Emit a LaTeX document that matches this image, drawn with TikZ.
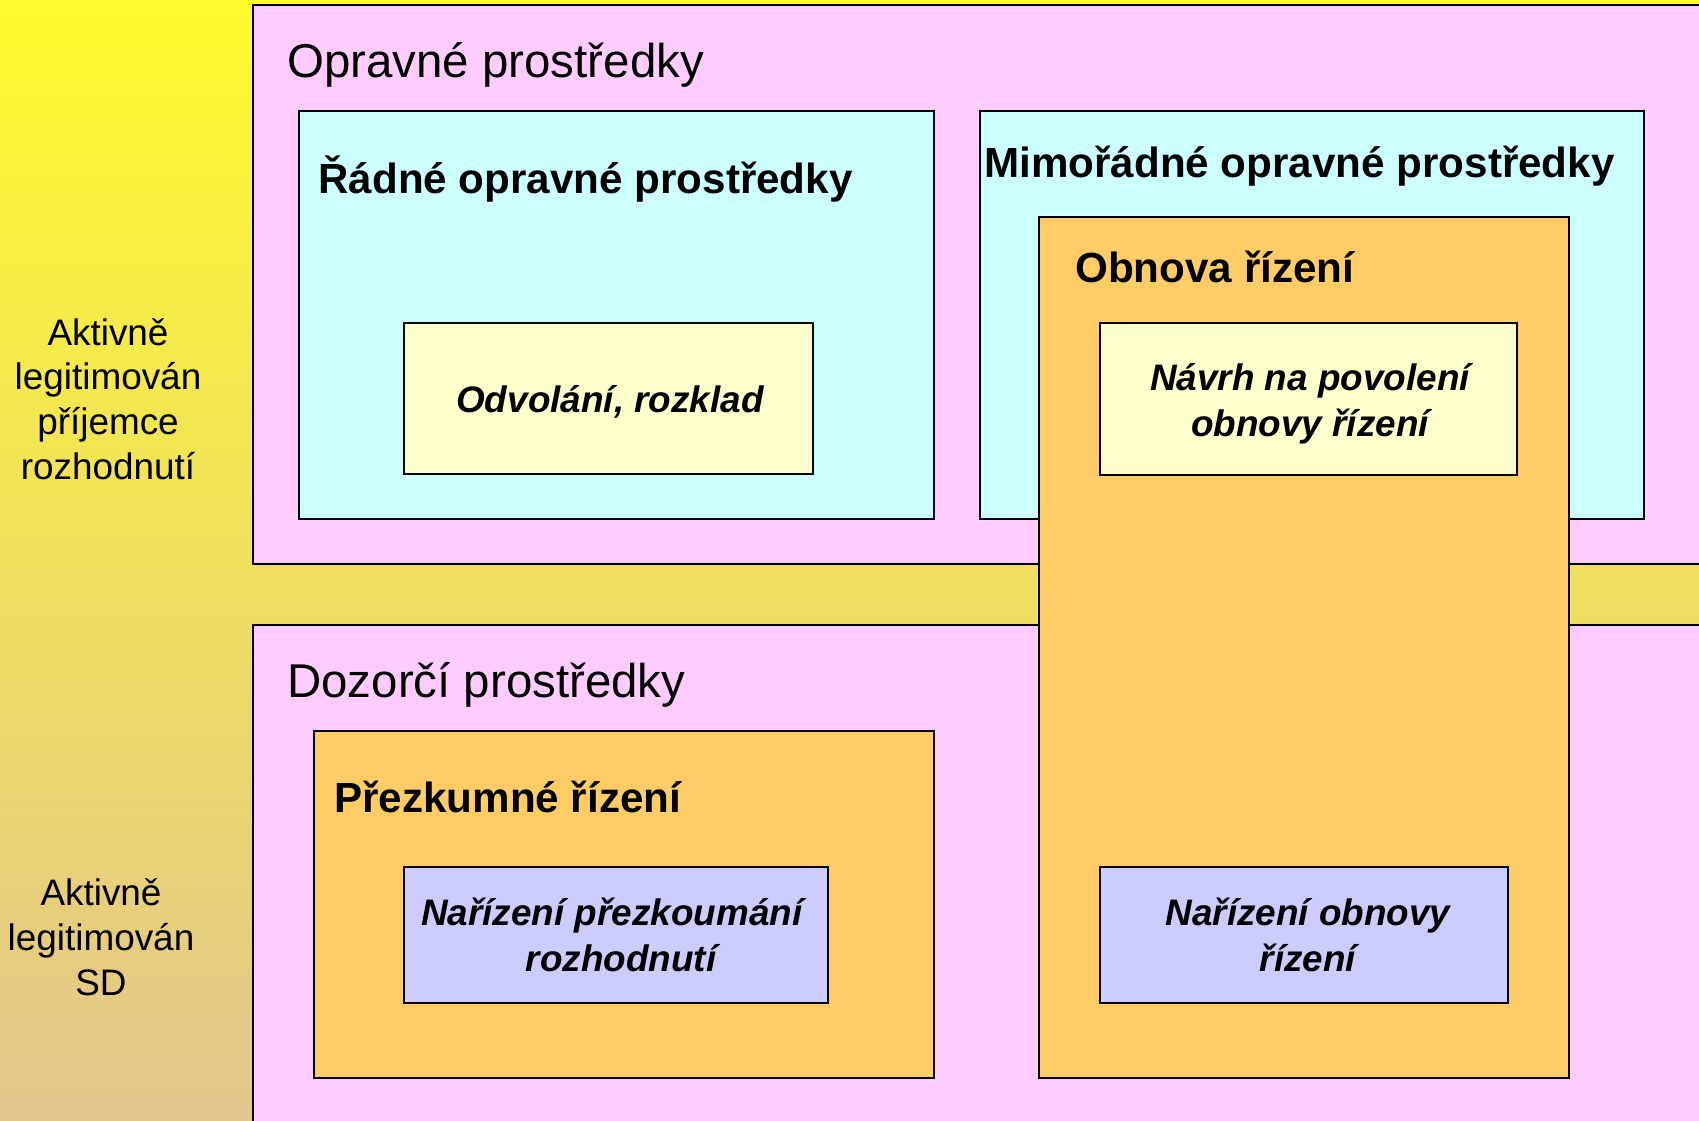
\documentclass[tikz,border=0pt]{standalone}
\usepackage{fontspec}
\setmainfont{Liberation Sans}
\usepackage{xcolor}
\usetikzlibrary{positioning}

\definecolor{bgtop}{HTML}{FDFB2D}
\definecolor{bgmid}{HTML}{EDDA76}
\definecolor{bgbot}{HTML}{E3C58E}
\definecolor{pinkfill}{HTML}{FFCCFF}
\definecolor{cyanfill}{HTML}{CCFFFF}
\definecolor{orangefill}{HTML}{FFCC66}
\definecolor{yellowfill}{HTML}{FFFFCC}
\definecolor{bluefill}{HTML}{CCCCFF}

\begin{document}
\begin{tikzpicture}[x=0.02cm, y=-0.02cm,
    box/.style={draw=black, line width=1.1pt},
    head/.style={anchor=base west, inner sep=0pt, font=\fontsize{27}{32}\selectfont},
    subhead/.style={anchor=base west, inner sep=0pt, font=\bfseries\fontsize{24}{29}\selectfont},
    item/.style={align=center, font=\bfseries\itshape\fontsize{21}{26}\selectfont},
    side/.style={align=center, font=\fontsize{21}{25.5}\selectfont}]
    % Background
    \useasboundingbox (0,0) rectangle (1699,1120);
    \clip (0,0) rectangle (1699,1120);
    \shade[top color=bgtop, middle color=bgmid, bottom color=bgbot] (0,0) rectangle (1699,1120);

    % Boxes
    \draw[box, fill=pinkfill] (253,5) rectangle (1720,564);
    \draw[box, fill=pinkfill] (253,625) rectangle (1720,1140);
    \draw[box, fill=cyanfill] (299,111) rectangle (934,519);
    \draw[box, fill=cyanfill] (980,111) rectangle (1644,519);
    \draw[box, fill=orangefill] (1039,217) rectangle (1569,1078);
    \draw[box, fill=yellowfill] (404,323) rectangle (813,474);
    \draw[box, fill=yellowfill] (1100,323) rectangle (1517,475);
    \draw[box, fill=orangefill] (314,731) rectangle (934,1078);
    \draw[box, fill=bluefill] (404,867) rectangle (828,1003);
    \draw[box, fill=bluefill] (1100,867) rectangle (1508,1003);

    % Nodes
    \node[head] (opravne) at (287,77) {Opravné prostředky};
    \node[subhead] (radne) at (318,193) {Řádné opravné prostředky};
    \node[subhead] (mimoradne) at (984,177) {Mimořádné opravné prostředky};
    \node[subhead] (obnova) at (1075,282) {Obnova řízení};
    \node[head] (dozorci) at (287,697) {Dozorčí prostředky};
    \node[subhead] (prezkumne) at (334,812) {Přezkumné řízení};

    \node[item] (odvolani) at (610,402) {Odvolání, rozklad};
    \node[item] (navrh) at (1310,404) {Návrh na povolení\\obnovy řízení};
    \node[item] (narizeniprez) at (621,935) {Nařízení přezkoumání\hspace*{0.5em}\\rozhodnutí};
    \node[item] (narizeniobn) at (1308,935) {Nařízení obnovy\\řízení};

    \node[side] (prijemce) at (108,399) {Aktivně\\legitimován\\příjemce\\rozhodnutí};
    \node[side] (sd) at (101,937) {Aktivně\\legitimován\\SD};
\end{tikzpicture}
\end{document}
